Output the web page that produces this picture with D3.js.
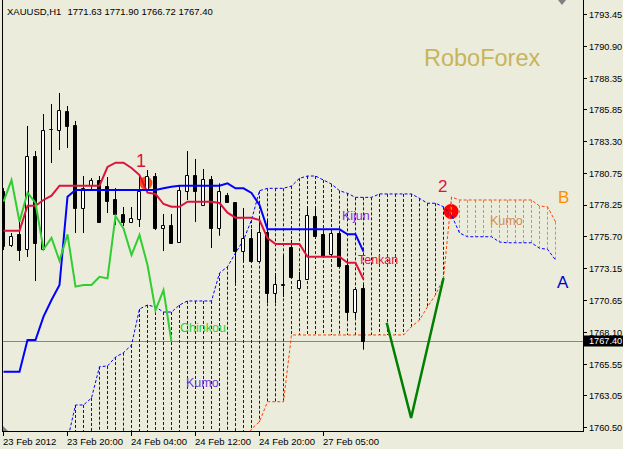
<!DOCTYPE html>
<html><head><meta charset="utf-8">
<script src="https://cdn.jsdelivr.net/npm/d3@7"></script>
<style>html,body{margin:0;padding:0;background:#ECECDC;overflow:hidden}</style>
</head><body>
<script>
// ---------------- DATA ----------------
const symbol = "XAUUSD,H1";
const xTickBars = [0, 8, 16, 24, 32, 40];
const xTickLabels = ["23 Feb 2012", "23 Feb 20:00", "24 Feb 04:00", "24 Feb 12:00", "24 Feb 20:00", "27 Feb 05:00"];
const yTicks = [1793.45, 1790.90, 1788.35, 1785.85, 1783.30, 1780.75, 1778.25, 1775.70, 1773.15, 1770.65, 1768.10, 1765.55, 1763.05, 1760.50];

const open = [
  1779.29, 1775.06, 1775.86, 1774.74, 1782.08, 1774.74, 1784.23, 1784.15, 1785.74, 1784.55,
  1778.01, 1779.84, 1780.24, 1779.76, 1778.65, 1777.53, 1776.89, 1777.13, 1779.45, 1780.56,
  1776.34, 1776.58, 1775.30, 1779.29, 1780.64, 1778.25, 1780.32, 1776.34, 1778.97, 1778.41,
  1774.58, 1775.62, 1773.71, 1776.02, 1771.16, 1771.87, 1774.90, 1771.63, 1772.35, 1777.37,
  1775.86, 1774.34, 1775.94, 1773.39, 1769.72, 1771.63];
const high = [
  1779.60, 1776.02, 1777.05, 1784.55, 1782.55, 1785.50, 1786.30, 1787.18, 1786.14, 1784.95,
  1780.56, 1780.40, 1780.56, 1780.48, 1779.60, 1778.09, 1778.09, 1780.56, 1781.04, 1780.80,
  1777.53, 1777.53, 1779.84, 1782.55, 1781.92, 1781.12, 1780.56, 1779.98, 1779.21, 1778.49,
  1778.01, 1776.34, 1777.21, 1777.05, 1772.83, 1774.26, 1775.46, 1772.91, 1778.17, 1778.09,
  1776.02, 1776.10, 1776.10, 1773.87, 1771.70, 1771.90];
const low = [
  1774.66, 1774.90, 1773.79, 1774.11, 1772.19, 1774.66, 1781.60, 1782.63, 1782.79, 1776.02,
  1776.02, 1779.45, 1776.89, 1777.61, 1776.65, 1776.58, 1776.81, 1776.50, 1779.29, 1776.26,
  1774.58, 1775.14, 1775.30, 1778.65, 1776.89, 1778.17, 1774.82, 1775.80, 1778.41, 1772.03,
  1773.71, 1773.71, 1773.71, 1770.44, 1770.44, 1770.92, 1772.51, 1771.47, 1772.27, 1775.70,
  1774.18, 1774.18, 1773.31, 1769.08, 1769.24, 1766.72];
const close = [
  1774.98, 1775.70, 1774.66, 1782.08, 1775.22, 1784.15, 1784.30, 1785.82, 1784.47, 1778.01,
  1779.53, 1780.24, 1776.89, 1778.49, 1777.53, 1776.89, 1777.21, 1779.29, 1780.56, 1776.34,
  1776.65, 1775.22, 1779.39, 1780.64, 1779.29, 1780.32, 1776.34, 1779.29, 1778.41, 1774.58,
  1775.62, 1773.71, 1776.02, 1771.16, 1771.95, 1771.90, 1772.51, 1772.27, 1777.45, 1775.70,
  1774.18, 1775.94, 1773.33, 1769.72, 1771.55, 1767.40];

const tenkan = [
  1776.20, 1776.20, 1776.20, 1778.19, 1778.19, 1778.65, 1778.99, 1779.79, 1779.79, 1779.79,
  1779.79, 1779.79, 1779.79, 1781.28, 1781.62, 1781.62, 1781.20, 1780.64, 1779.23, 1779.13,
  1778.33, 1778.11, 1778.11, 1778.51, 1778.51, 1778.51, 1778.51, 1778.41, 1777.64, 1777.24,
  1777.24, 1777.24, 1777.05, 1775.62, 1775.14, 1775.14, 1775.14, 1775.14, 1774.13, 1774.13,
  1774.13, 1774.13, 1774.13, 1773.65, 1773.65, 1772.33];
const kijun = [
  1764.96, 1764.96, 1764.96, 1767.49, 1767.49, 1769.35, 1770.68, 1771.87, 1778.91, 1779.45,
  1779.45, 1779.45, 1779.45, 1779.45, 1779.45, 1779.45, 1779.45, 1779.45, 1779.45, 1779.45,
  1779.58, 1779.71, 1779.79, 1779.79, 1779.79, 1779.79, 1779.79, 1779.79, 1779.98, 1779.58,
  1779.58, 1779.21, 1778.25, 1776.31, 1776.31, 1776.31, 1776.31, 1776.31, 1776.31, 1776.31,
  1776.31, 1776.31, 1776.31, 1775.91, 1775.91, 1774.53];
const chinkou = [
  1778.51, 1780.24, 1776.92, 1779.23, 1778.41, 1774.72, 1775.62, 1773.81, 1775.91, 1771.74,
  1771.87, 1771.87, 1772.53, 1772.40, 1777.37, 1776.39, 1774.26, 1775.86, 1773.47, 1769.88,
  1771.47, 1767.35];

const spanStart = 8;
const spanA = [
  1759.52, 1762.31, 1762.31, 1762.87, 1765.36, 1765.42, 1766.13, 1766.48, 1767.09, 1769.96,
  1770.28, 1770.12, 1769.72, 1769.72, 1770.28, 1770.60, 1770.60, 1770.60, 1770.60, 1772.83,
  1773.33, 1774.42, 1775.46, 1777.05, 1779.39, 1779.58, 1779.58, 1779.58, 1779.76, 1780.38,
  1780.56, 1780.56, 1780.24, 1779.92, 1779.39, 1779.18, 1778.86, 1778.86, 1778.86, 1779.13,
  1779.13, 1779.13, 1779.13, 1779.13, 1778.78, 1778.39, 1778.39, 1778.11, 1777.45, 1776.02,
  1775.72, 1775.72, 1775.72, 1775.72, 1775.30, 1775.24, 1775.24, 1775.24, 1775.24, 1774.80,
  1774.72, 1773.87];
const spanB = [
  null, null, null, null, null, null, null, null, null, null,
  null, null, null, null, null, null, null, null, null, null,
  null, null, 1759.12, 1760.40, 1760.98, 1762.57, 1762.57, 1762.57, 1767.89, 1767.89,
  1767.89, 1767.89, 1767.89, 1767.89, 1767.89, 1767.89, 1767.89, 1767.89, 1767.89, 1767.89,
  1767.89, 1767.89, 1767.89, 1768.55, 1769.08, 1770.14, 1771.08, 1772.43, 1778.89, 1778.65,
  1778.65, 1778.65, 1778.65, 1778.65, 1778.65, 1778.65, 1778.65, 1778.65, 1778.65, 1778.17,
  1778.11, 1776.92];

const forecastBars = [47.9, 50.95, 55.0];
const forecastPrices = [1768.87, 1761.28, 1772.43];
const markerBars = [17.8, 55.95];
const markerPrices = [1780.00, 1777.73];

// ---------------- DRAWING ----------------
const W = 623, H = 449;
const PL = 2.5, PR = 583.5, PB = 431.5;
const x = d3.scaleLinear().domain([0, 1]).range([3.5, 11.5]);
const y = d3.scaleLinear().domain([1760.5, 1793.45]).range([427.7, 14.3]);
const crisp = v => Math.round(v - 0.5) + 0.5;
const FONT = "'Liberation Sans', Arial, sans-serif";

const svg = d3.select("body").append("svg").attr("width", W).attr("height", H).style("display", "block");
svg.append("rect").attr("width", W).attr("height", H).attr("fill", "#ECECDC");
svg.append("defs").append("clipPath").attr("id", "pc")
  .append("rect").attr("x", 3).attr("y", 0).attr("width", 580).attr("height", 431);
const g = svg.append("g").attr("clip-path", "url(#pc)");

const last = close.length - 1;
// current price line
g.append("line").attr("x1", 3).attr("x2", 583)
  .attr("y1", crisp(y(close[last]))).attr("y2", crisp(y(close[last])))
  .attr("stroke", "#778899").attr("stroke-width", 1);

// markers (background objects)
const markerColors = ["#FF4A14", "#FF0000"];
const markerR = [6.5, 7.5];
markerBars.forEach((b, k) => {
  g.append("circle").attr("cx", x(b)).attr("cy", y(markerPrices[k])).attr("r", markerR[k]).attr("fill", markerColors[k]);
});

// cloud
const cloud = spanA.map((a, k) => ({ i: spanStart + k, a, b: spanB[k] }));
cloud.forEach(d => {
  if (d.a == null) return;
  const xx = x(d.i);
  if (d.b == null || d.a >= d.b) {
    g.append("line").attr("x1", xx).attr("x2", xx)
      .attr("y1", y(d.a)).attr("y2", d.b == null ? PB : y(d.b))
      .attr("stroke", "#0000FF").attr("stroke-width", 1).attr("stroke-dasharray", "3,2");
  } else {
    g.append("line").attr("x1", xx).attr("x2", xx)
      .attr("y1", y(d.b)).attr("y2", y(d.a))
      .attr("stroke", "#F4805A").attr("stroke-width", 1).attr("stroke-dasharray", "3,2");
  }
});
g.append("path").datum(cloud)
  .attr("d", d3.line().defined(d => d.a != null).x(d => x(d.i)).y(d => y(d.a)))
  .attr("fill", "none").attr("stroke", "#0000FF").attr("stroke-width", 1).attr("stroke-dasharray", "3,2");
g.append("path").datum(cloud)
  .attr("d", d3.line().defined(d => d.b != null).x(d => x(d.i)).y(d => y(d.b)))
  .attr("fill", "none").attr("stroke", "#FF4500").attr("stroke-width", 1).attr("stroke-dasharray", "3,2");

// candles
open.forEach((o, i) => {
  const c = close[i];
  const xx = x(i);
  g.append("line").attr("x1", xx).attr("x2", xx).attr("y1", y(high[i])).attr("y2", y(low[i]))
    .attr("stroke", "#000").attr("stroke-width", 1);
  const yt = crisp(y(Math.max(o, c))), yb = crisp(y(Math.min(o, c)));
  const xl = xx - 2, xr = xx + 1;
  g.append("path").attr("d", `M${xl},${yt}H${xr}V${yb}H${xl}Z`)
    .attr("fill", c < o ? "#000" : "#fff").attr("stroke", "#000").attr("stroke-width", 1);
});

// indicator lines
const lineGen = d3.line().x((d, i) => x(i)).y(d => y(d));
g.append("path").datum(tenkan).attr("d", lineGen).attr("fill", "none").attr("stroke", "#DC143C").attr("stroke-width", 2);
g.append("path").datum(kijun).attr("d", lineGen).attr("fill", "none").attr("stroke", "#0000FF").attr("stroke-width", 2);
g.append("path").datum(chinkou).attr("d", lineGen).attr("fill", "none").attr("stroke", "#32CD32").attr("stroke-width", 2);

// forecast V
g.append("path").datum(forecastBars.map((b, k) => [b, forecastPrices[k]]))
  .attr("d", d3.line().x(d => x(d[0])).y(d => y(d[1])))
  .attr("fill", "none").attr("stroke", "#008000").attr("stroke-width", 2.5);

// annotation texts
const notes = [
  { t: "1", b: 16.56, p: 1781.28, c: "#DC143C", s: 18 },
  { t: "2", b: 54.31, p: 1779.29, c: "#DC143C", s: 17 },
  { t: "B", b: 69.31, p: 1778.41, c: "#FF8C00", s: 17 },
  { t: "A", b: 69.19, p: 1771.63, c: "#0000CD", s: 17 },
  { t: "Kijun", b: 42.31, p: 1777.05, c: "#8A2BE2", s: 12.5 },
  { t: "Tenkan", b: 44.31, p: 1773.55, c: "#DC143C", s: 12.5 },
  { t: "Chinkou", b: 22.06, p: 1768.13, c: "#32CD32", s: 12.5 },
  { t: "Kumo", b: 22.81, p: 1763.74, c: "#6A3AD8", s: 12.5 },
  { t: "Kumo", b: 60.81, p: 1776.66, c: "#D08C50", s: 12.5 },
  { t: "RoboForex", b: 52.56, p: 1789.33, c: "#C8B45A", s: 23.5 }
];
notes.forEach(n => {
  svg.append("text").attr("x", x(n.b)).attr("y", y(n.p)).text(n.t)
    .attr("font-family", FONT).attr("font-size", n.s).attr("fill", n.c);
});

// frame
svg.append("line").attr("x1", PL).attr("x2", PL).attr("y1", 0).attr("y2", PB).attr("stroke", "#000");
svg.append("line").attr("x1", PR).attr("x2", PR).attr("y1", 0).attr("y2", PB).attr("stroke", "#000");
svg.append("line").attr("x1", 2).attr("x2", 584).attr("y1", PB).attr("y2", PB).attr("stroke", "#000");
svg.append("path").attr("d", "M3,426L3,431L8,431Z").attr("fill", "#808080");
svg.append("path").attr("d", "M558,0L566,0L562,5Z").attr("fill", "#808080");

// y axis
yTicks.forEach(t => {
  const yy = crisp(y(t));
  svg.append("line").attr("x1", 584).attr("x2", 587).attr("y1", yy).attr("y2", yy).attr("stroke", "#000");
  svg.append("text").attr("x", 589).attr("y", y(t)).attr("dy", "0.35em").text(t.toFixed(2))
    .attr("font-family", FONT).attr("font-size", 9.2).attr("fill", "#000");
});
// current price box
const yc = y(close[last]);
svg.append("rect").attr("x", 584).attr("y", Math.round(yc) - 5.5).attr("width", 39).attr("height", 11).attr("fill", "#000");
svg.append("text").attr("x", 589).attr("y", yc).attr("dy", "0.35em").text(close[last].toFixed(2))
  .attr("font-family", FONT).attr("font-size", 9.2).attr("fill", "#fff");

// x axis
xTickBars.forEach((b, k) => {
  const xx = crisp(x(b) - 0.5);
  svg.append("line").attr("x1", xx).attr("x2", xx).attr("y1", PB).attr("y2", 436).attr("stroke", "#000");
  svg.append("text").attr("x", xx - 0.5).attr("y", 444.5).text(xTickLabels[k])
    .attr("font-family", FONT).attr("font-size", 9.5).attr("fill", "#000");
});

// title
svg.append("text").attr("x", 7).attr("y", 14.5).text(symbol)
  .attr("font-family", FONT).attr("font-size", 9.5).attr("fill", "#000");
svg.append("text").attr("x", 67.5).attr("y", 14.5)
  .text([open[last], high[last], low[last], close[last]].map(v => v.toFixed(2)).join(" "))
  .attr("font-family", FONT).attr("font-size", 9.5).attr("fill", "#000");
</script>
</body></html>
